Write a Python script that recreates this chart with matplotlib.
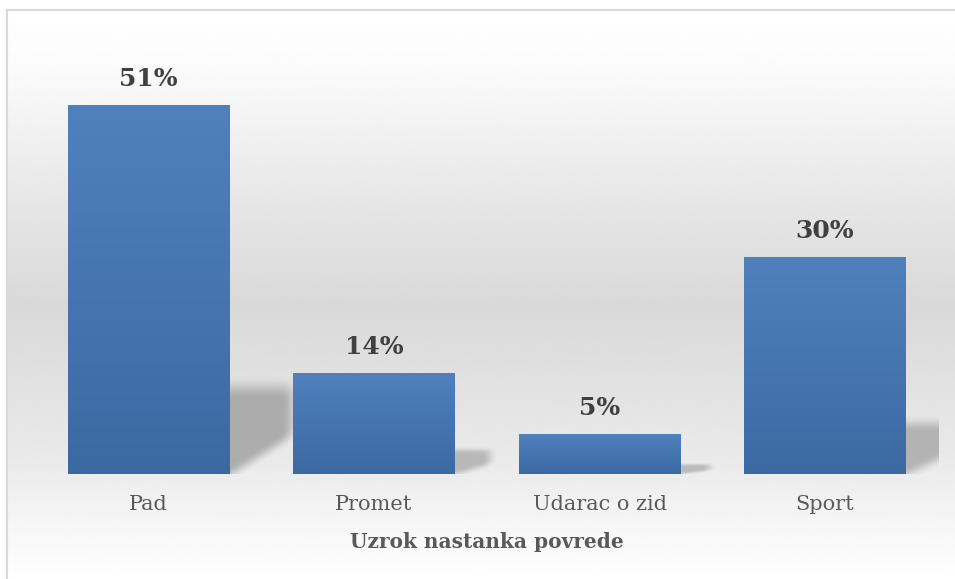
import numpy as np
import matplotlib
matplotlib.use("Agg")
import matplotlib.pyplot as plt
from matplotlib.patches import Rectangle
from matplotlib.colors import LinearSegmentedColormap

categories = ["Pad", "Promet", "Udarac o zid", "Sport"]
values = [0.51, 0.14, 0.055, 0.30]
value_labels = ["51%", "14%", "5%", "30%"]
axis_title = "Uzrok nastanka povrede"

SERIF = ["DejaVu Serif"]

fig = plt.figure(figsize=(9.55, 5.79), dpi=100)
fig.patch.set_facecolor("white")

# chart-area background with vertical gradient (white -> grey -> white)
W, H = 955, 579
bx0, by0 = 7 / W, 0.0
bx1, by1 = 1.0, 1 - 10 / H
bg = fig.add_axes([bx0, by0, bx1 - bx0, by1 - by0], zorder=0)
bg.set_axis_off()
t = np.linspace(0, 1, 400)[:, None]  # 0 = top
g = np.interp(t, [0.0, 0.1, 0.35, 0.52, 0.8, 0.88, 1.0],
              [1.0, 0.985, 0.9, 0.85, 0.92, 0.955, 1.0])
bg.imshow(np.repeat(g, 2, axis=1), cmap="gray", vmin=0, vmax=1,
          aspect="auto", extent=[0, 1, 0, 1], interpolation="bicubic")
bg.set_xlim(0, 1)
bg.set_ylim(0, 1)
fig.add_artist(plt.Line2D([bx0, bx0], [0, by1], color="#d9d9d9", lw=1.5,
                          transform=fig.transFigure))
fig.add_artist(plt.Line2D([bx0, 1], [by1, by1], color="#d9d9d9", lw=1.5,
                          transform=fig.transFigure))

ax = fig.add_axes([35.75 / W, 105 / H, 902 / W, 434 / H], zorder=2)
ax.patch.set_alpha(0)
x = np.arange(len(categories))
bw = 0.714

bar_cmap = LinearSegmentedColormap.from_list("b", ["#3c69a2", "#4f81bd"])
grad = np.linspace(0, 1, 256)[:, None]

# shadow alpha mask (u: 0..1 left->right, v: 0..1 bottom->top of extent)
nu, nv = 160, 160
uu, vv = np.meshgrid(np.linspace(0, 1, nu), np.linspace(0, 1.2, nv))
def smooth(a, b, z):
    s = np.clip((z - a) / (b - a), 0, 1)
    return s * s * (3 - 2 * s)
diag = vv - 0.5 * (uu - 0.04) / 0.96          # >0 above diagonal

for xi, v in zip(x, values):
    xr = xi + bw / 2
    sh_h = 0.24 * v
    sh_w = 0.14 + 0.36 * v
    soft = 0.1 + 0.25 * (0.51 - v)   # smaller bars -> softer shadow
    mask = smooth(-soft, soft, diag) * (1 - smooth(0.9 - soft * 0.6, 1.08 + soft * 0.3, vv)) \
        * (1 - smooth(0.82 - soft, 1.0, uu))
    rgba = np.zeros((nv, nu, 4))
    rgba[..., :3] = 0.6
    rgba[..., 3] = mask * (0.55 + 0.2 * v / 0.51)
    ax.imshow(rgba, extent=[xr, xr + sh_w, 0, sh_h * 1.2],
              origin="lower", aspect="auto", zorder=1,
              interpolation="bilinear")
    im = ax.imshow(grad, cmap=bar_cmap, aspect="auto",
                   extent=[xi - bw / 2, xi + bw / 2, 0, v],
                   origin="lower", zorder=3, interpolation="bicubic")
    rect = Rectangle((xi - bw / 2, 0), bw, v, facecolor="none",
                     edgecolor="none", zorder=3)
    ax.add_patch(rect)
    im.set_clip_path(rect)

ax.set_xlim(-0.5, len(categories) - 0.5)
ax.set_ylim(0, 0.6)

for xi, v, lab in zip(x, values, value_labels):
    ax.annotate(lab, (xi, v), xytext=(0, 10), textcoords="offset points",
                ha="center", va="bottom", fontsize=18, fontweight="bold",
                color="#404040", family=SERIF)

ax.set_xticks(x)
ax.set_xticklabels(categories, family=SERIF, fontsize=15, color="#595959")
ax.tick_params(axis="x", length=0, pad=15)
ax.set_yticks([])
for s in ax.spines.values():
    s.set_visible(False)
ax.set_xlabel(axis_title, family=SERIF, fontsize=14.5, fontweight="bold",
              color="#595959", labelpad=13)

fig.savefig("out.png", dpi=100)
